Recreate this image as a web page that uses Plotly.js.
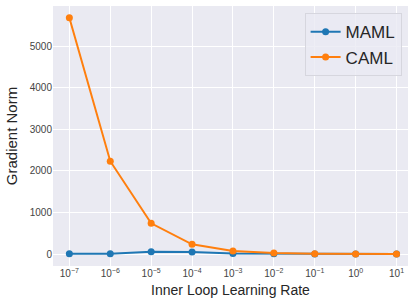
<!DOCTYPE html>
<html>
<head>
<meta charset="utf-8">
<script src="https://cdn.plot.ly/plotly-3.0.1.min.js"></script>
<style>html,body{margin:0;padding:0;background:#fff;}#chart{width:409px;height:302px;}</style>
</head>
<body>
<div id="chart"></div>
<script>
const learningRates = [1e-7, 1e-6, 1e-5, 1e-4, 1e-3, 1e-2, 1e-1, 1e0, 1e1];
const tickLabels = ["10<sup>\u22127</sup>","10<sup>\u22126</sup>","10<sup>\u22125</sup>","10<sup>\u22124</sup>","10<sup>\u22123</sup>","10<sup>\u22122</sup>","10<sup>\u22121</sup>","10<sup>0</sup>","10<sup>1</sup>"];
const mamlNorm = [5, 5, 55, 48, 15, 8, 3, 2, 1];
const camlNorm = [5690, 2235, 740, 233, 72, 25, 6, 3, 2];

const traces = [
  {x: learningRates, y: mamlNorm, name: "MAML", mode: "lines+markers",
   line: {color: "#1f77b4", width: 2}, marker: {color: "#1f77b4", size: 7}},
  {x: learningRates, y: camlNorm, name: "CAML", mode: "lines+markers",
   line: {color: "#ff7f0e", width: 2}, marker: {color: "#ff7f0e", size: 7}}
];
const layout = {
  width: 409, height: 302,
  margin: {l: 53, r: 1, t: 6, b: 36},
  paper_bgcolor: "#ffffff", plot_bgcolor: "#EAEAF2",
  font: {family: "Liberation Sans, Arial, sans-serif", color: "#262626"},
  showlegend: true,
  legend: {x: 0.982, y: 0.972, xanchor: "right", yanchor: "top",
    bgcolor: "rgba(234,234,242,0.8)", bordercolor: "#d6d6de", borderwidth: 1,
    font: {size: 17, color: "#262626"}},
  xaxis: {type: "log", range: [-7.4, 1.28], tickvals: learningRates, ticktext: tickLabels,
    showgrid: true, gridcolor: "#ffffff", gridwidth: 1, zeroline: false, showline: false,
    ticks: "", tickfont: {size: 10, color: "#444"},
    title: {text: "Inner Loop Learning Rate", font: {size: 14, color: "#262626"}, standoff: 7}},
  yaxis: {range: [-289, 5973], tickvals: [0,1000,2000,3000,4000,5000],
    showgrid: true, gridcolor: "#ffffff", gridwidth: 1, zeroline: false, showline: false,
    ticks: "", tickfont: {size: 10, color: "#444"},
    title: {text: "Gradient Norm", font: {size: 15, color: "#262626"}, standoff: 8}}
};
Plotly.newPlot("chart", traces, layout, {displayModeBar: false});
</script>
</body>
</html>
